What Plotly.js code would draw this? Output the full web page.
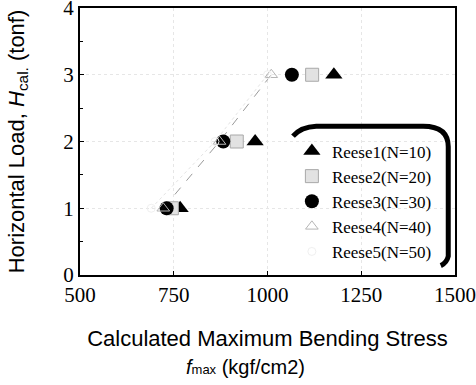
<!DOCTYPE html>
<html>
<head>
<meta charset="utf-8">
<script src="https://cdn.plot.ly/plotly-3.0.1.min.js"></script>
<style>
  html, body { margin: 0; padding: 0; background: #fff; }
  #chart { width: 476px; height: 385px; }
</style>
</head>
<body>
<div id="chart"></div>
<script>
// Horizontal load levels (tonf)
const loadLevels = [1, 2, 3];

// Calculated maximum bending stress f_max (kgf/cm2) per model
const reese1 = [767, 967, 1177];
const reese2 = [745, 918, 1119];
const reese3 = [731, 882, 1065];
const reese4 = [722, 872, 1010];
const reese5 = [690, 860, 1000];

const seriesNames = ['Reese1(N=10)', 'Reese2(N=20)', 'Reese3(N=30)', 'Reese4(N=40)', 'Reese5(N=50)'];

const xTicks = [500, 750, 1000, 1250, 1500];
const yTicks = [0, 1, 2, 3, 4];

const serif = 'Liberation Serif, Times New Roman, serif';
const sans = 'Liberation Sans, Arial, sans-serif';

const traces = [
  // connecting lines for the lighter series (kept out of the legend)
  {
    x: reese4, y: loadLevels, mode: 'lines', type: 'scatter', showlegend: false, hoverinfo: 'skip',
    line: { color: '#9a9a9a', width: 1, dash: 'dash' }
  },
  {
    x: reese5, y: loadLevels, mode: 'lines', type: 'scatter', showlegend: false, hoverinfo: 'skip',
    line: { color: '#e4e4e4', width: 1, dash: 'dot' }
  },
  {
    x: reese1, y: loadLevels, name: seriesNames[0], mode: 'markers', type: 'scatter',
    marker: { symbol: 'triangle-up', size: 15, color: '#000' }
  },
  {
    x: reese2, y: loadLevels, name: seriesNames[1], mode: 'markers', type: 'scatter',
    marker: { symbol: 'square', size: 13, color: '#e2e2e2', line: { color: '#a8a8a8', width: 1 } }
  },
  {
    x: reese3, y: loadLevels, name: seriesNames[2], mode: 'markers', type: 'scatter',
    marker: { symbol: 'circle', size: 14, color: '#000' }
  },
  {
    x: reese4, y: loadLevels, name: seriesNames[3], mode: 'markers', type: 'scatter',
    marker: { symbol: 'triangle-up-open', size: 11, color: '#b5b5b5', line: { width: 1 } }
  },
  {
    x: reese5, y: loadLevels, name: seriesNames[4], mode: 'markers', type: 'scatter',
    marker: { symbol: 'circle-open', size: 8, color: '#f0f0f0' }
  }
];

const layout = {
  width: 476,
  height: 385,
  margin: { l: 80, r: 21, t: 8, b: 110 },
  paper_bgcolor: '#fff',
  plot_bgcolor: '#fff',
  showlegend: true,
  legend: {
    x: 0.565, y: 0.53, xanchor: 'left', yanchor: 'top',
    bgcolor: 'rgba(255,255,255,0)',
    font: { family: serif, size: 17, color: '#000' },
    itemwidth: 30,
    tracegroupgap: 0
  },
  xaxis: {
    range: [500, 1500],
    tickvals: xTicks,
    ticktext: xTicks.map(String),
    tickfont: { family: serif, size: 21, color: '#000' },
    ticklabeloverflow: 'allow',
    ticks: 'inside', ticklen: 4, tickcolor: '#000',
    showline: true, linecolor: '#000', linewidth: 2, mirror: true,
    showgrid: true, gridcolor: '#e6e6e6', griddash: 'dot', gridwidth: 1,
    zeroline: false,
    title: {
      text: 'Calculated Maximum Bending Stress',
      font: { family: sans, size: 22, color: '#000' },
      standoff: 24
    }
  },
  yaxis: {
    range: [0, 4],
    tickvals: yTicks,
    ticktext: yTicks.map(String),
    tickfont: { family: serif, size: 21, color: '#000' },
    ticklabeloverflow: 'allow',
    ticks: 'inside', ticklen: 4, tickcolor: '#000',
    minor: { dtick: 0.5, ticks: 'inside', ticklen: 3, tickcolor: '#000' },
    showline: true, linecolor: '#000', linewidth: 2, mirror: true,
    showgrid: true, gridcolor: '#e6e6e6', griddash: 'dot', gridwidth: 1,
    zeroline: false,
    ticklabelstandoff: 0,
    title: {
      text: 'Horizontal Load, <i>H</i><sub>cal.</sub> (tonf)',
      font: { family: sans, size: 22, color: '#000' },
      standoff: 33
    }
  },
  annotations: [
    {
      xref: 'paper', yref: 'paper', x: 0.44, y: -0.345, xanchor: 'center', yanchor: 'middle',
      showarrow: false,
      text: '<i>f</i><span style="font-size:13px">max</span> (kgf/cm2)',
      font: { family: sans, size: 20, color: '#000' }
    }
  ],
  shapes: [
    // heavy shadow edge of the legend frame (top and right, rounded corner)
    {
      type: 'path', xref: 'paper', yref: 'paper',
      path: 'M 0.568,0.52 Q 0.59,0.555 0.63,0.557 L 0.915,0.557 Q 0.982,0.557 0.982,0.48 L 0.982,0.07 Q 0.978,0.045 0.962,0.035',
      line: { color: '#000', width: 5 },
      fillcolor: 'rgba(0,0,0,0)'
    }
  ]
};

Plotly.newPlot('chart', traces, layout, { staticPlot: true, displayModeBar: false });
</script>
</body>
</html>
